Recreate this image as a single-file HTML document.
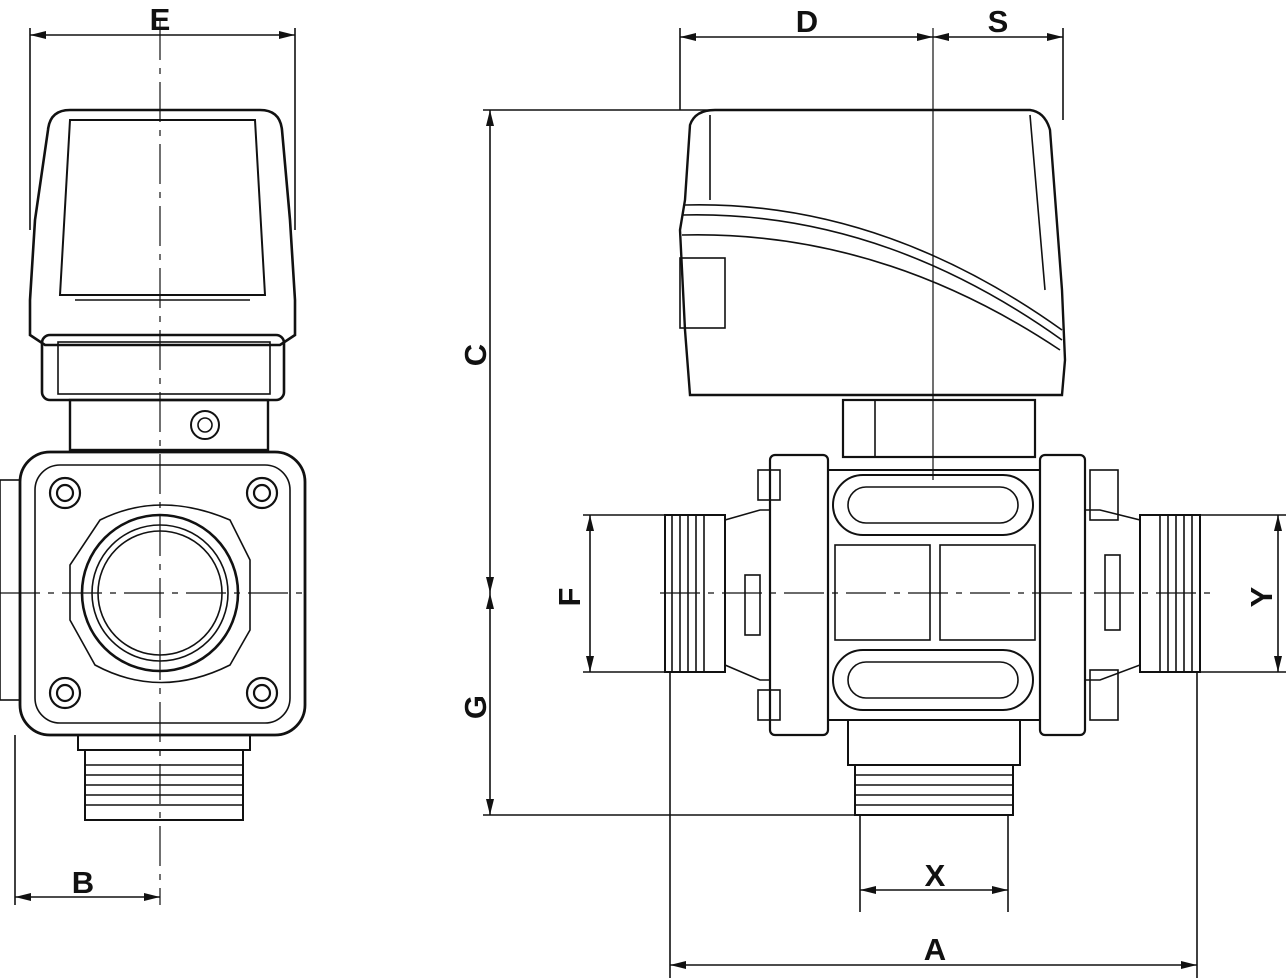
<!DOCTYPE html>
<html><head><meta charset="utf-8"><style>
html,body{margin:0;padding:0;background:#fff;}
svg{display:block}
text{font-family:"Liberation Sans",sans-serif;font-weight:bold;font-size:31px;fill:#111}
</style></head><body>
<svg width="1286" height="980" viewBox="0 0 1286 980" xmlns="http://www.w3.org/2000/svg">
<defs>
<marker id="a" markerWidth="16" markerHeight="8" refX="16" refY="4" orient="auto-start-reverse" markerUnits="userSpaceOnUse"><path d="M0,0 L16,4 L0,8 z" fill="#111"/></marker>
</defs>
<g stroke="#111" fill="none" stroke-width="1.6">
<!-- LEFT VIEW -->
<line x1="30" y1="28" x2="30" y2="230"/><line x1="295" y1="28" x2="295" y2="230"/>
<line x1="30" y1="35" x2="295" y2="35" marker-start="url(#a)" marker-end="url(#a)"/>
<path d="M48,130 Q50,110 70,110 L260,110 Q280,110 282,130 L290,220 L295,300 L295,335 L280,345 L45,345 L30,335 L30,300 L35,220 Z" stroke-width="2.6"/>
<path d="M70,120 L255,120 L265,295 L60,295 Z" stroke-width="2"/>
<path d="M75,300 L250,300"/>
<rect x="42" y="335" width="242" height="65" rx="8" stroke-width="2.6"/>
<rect x="58" y="342" width="212" height="52"/>
<rect x="70" y="400" width="198" height="50" stroke-width="2.4"/>
<circle cx="205" cy="425" r="14" stroke-width="2"/><circle cx="205" cy="425" r="7"/>
<rect x="20" y="452" width="285" height="283" rx="30" stroke-width="2.8"/>
<rect x="35" y="465" width="255" height="258" rx="25"/>
<rect x="0" y="480" width="20" height="220"/>
<circle cx="160" cy="593" r="78" stroke-width="2.6"/><circle cx="160" cy="593" r="68"/><circle cx="160" cy="593" r="62"/>
<path d="M100,520 Q160,490 230,520 L250,560 L250,630 L230,665 Q160,700 95,665 L70,620 L70,565 Z"/>
<g stroke-width="2.2"><circle cx="65" cy="493" r="15"/><circle cx="65" cy="493" r="8"/>
<circle cx="262" cy="493" r="15"/><circle cx="262" cy="493" r="8"/>
<circle cx="65" cy="693" r="15"/><circle cx="65" cy="693" r="8"/>
<circle cx="262" cy="693" r="15"/><circle cx="262" cy="693" r="8"/></g>
<rect x="78" y="735" width="172" height="15" stroke-width="2"/>
<rect x="85" y="750" width="158" height="70" stroke-width="2"/>
<path d="M85,765 H243 M85,775 H243 M85,785 H243 M85,795 H243 M85,805 H243"/>
<line x1="160" y1="20" x2="160" y2="905" stroke-dasharray="40,8,6,8" stroke-width="1.2"/>
<line x1="0" y1="593" x2="305" y2="593" stroke-dasharray="40,8,6,8" stroke-width="1.2"/>
<line x1="15" y1="735" x2="15" y2="905"/>
<line x1="15" y1="897" x2="160" y2="897" marker-start="url(#a)" marker-end="url(#a)"/>

<!-- RIGHT VIEW -->
<line x1="680" y1="28" x2="680" y2="110"/><line x1="1063" y1="28" x2="1063" y2="120"/>
<line x1="933" y1="28" x2="933" y2="480" stroke-width="1.2"/>
<line x1="680" y1="37" x2="933" y2="37" marker-start="url(#a)" marker-end="url(#a)"/>
<line x1="933" y1="37" x2="1063" y2="37" marker-start="url(#a)" marker-end="url(#a)"/>
<line x1="483" y1="110" x2="710" y2="110"/>
<line x1="483" y1="815" x2="860" y2="815"/>
<line x1="490" y1="110" x2="490" y2="593" marker-start="url(#a)" marker-end="url(#a)"/>
<line x1="490" y1="593" x2="490" y2="815" marker-start="url(#a)" marker-end="url(#a)"/>
<path d="M685,200 L690,125 Q695,110 715,110 L1030,110 Q1045,112 1050,130 L1062,290 L1065,360 L1062,395 L690,395 L685,330 L680,230 Z" stroke-width="2.4"/>
<path d="M710,115 L710,200 M1030,115 L1045,290"/>
<path d="M685,205 Q880,200 1062,330 M682,215 Q880,210 1062,340 M682,235 Q880,230 1060,350"/>
<rect x="680" y="258" width="45" height="70"/>
<rect x="843" y="400" width="192" height="57" stroke-width="2.2"/>
<path d="M875,400 V457"/>
<rect x="770" y="455" width="58" height="280" rx="5" stroke-width="2.2"/>
<rect x="1040" y="455" width="45" height="280" rx="5" stroke-width="2.2"/>
<rect x="828" y="470" width="212" height="250" stroke-width="2"/>
<rect x="835" y="545" width="95" height="95"/><rect x="940" y="545" width="95" height="95"/>
<rect x="833" y="475" width="200" height="60" rx="30" stroke-width="2"/>
<rect x="848" y="487" width="170" height="36" rx="18"/>
<rect x="833" y="650" width="200" height="60" rx="30" stroke-width="2"/>
<rect x="848" y="662" width="170" height="36" rx="18"/>
<rect x="758" y="470" width="22" height="30"/><rect x="758" y="690" width="22" height="30"/>
<rect x="1090" y="470" width="28" height="50"/><rect x="1090" y="670" width="28" height="50"/>
<rect x="665" y="515" width="60" height="157" stroke-width="2"/>
<path d="M672,515 V672 M680,515 V672 M688,515 V672 M696,515 V672 M704,515 V672"/>
<path d="M725,520 L760,510 L770,510 L770,680 L760,680 L725,665"/>
<rect x="745" y="575" width="15" height="60"/>
<rect x="1140" y="515" width="60" height="157" stroke-width="2"/>
<path d="M1160,515 V672 M1168,515 V672 M1176,515 V672 M1184,515 V672 M1192,515 V672"/>
<path d="M1085,510 L1100,510 L1140,520 L1140,665 L1100,680 L1085,680"/>
<rect x="1105" y="555" width="15" height="75"/>
<rect x="848" y="720" width="172" height="45" stroke-width="2"/>
<rect x="855" y="765" width="158" height="50" stroke-width="2"/>
<path d="M855,775 H1013 M855,785 H1013 M855,795 H1013 M855,805 H1013"/>
<line x1="660" y1="593" x2="1210" y2="593" stroke-dasharray="40,8,6,8" stroke-width="1.2"/>
<line x1="583" y1="515" x2="665" y2="515"/><line x1="583" y1="672" x2="665" y2="672"/>
<line x1="590" y1="515" x2="590" y2="672" marker-start="url(#a)" marker-end="url(#a)"/>
<line x1="1200" y1="515" x2="1286" y2="515"/><line x1="1200" y1="672" x2="1286" y2="672"/>
<line x1="1278" y1="515" x2="1278" y2="672" marker-start="url(#a)" marker-end="url(#a)"/>
<line x1="860" y1="815" x2="860" y2="912"/><line x1="1008" y1="815" x2="1008" y2="912"/>
<line x1="860" y1="890" x2="1008" y2="890" marker-start="url(#a)" marker-end="url(#a)"/>
<line x1="670" y1="672" x2="670" y2="978"/><line x1="1197" y1="672" x2="1197" y2="978"/>
<line x1="670" y1="965" x2="1197" y2="965" marker-start="url(#a)" marker-end="url(#a)"/>
</g>
<text x="160" y="30" text-anchor="middle">E</text>
<text x="83" y="893" text-anchor="middle">B</text>
<text x="807" y="32" text-anchor="middle">D</text>
<text x="998" y="32" text-anchor="middle">S</text>
<text x="935" y="886" text-anchor="middle">X</text>
<text x="935" y="960" text-anchor="middle">A</text>
<text transform="translate(486,355) rotate(-90)" text-anchor="middle">C</text>
<text transform="translate(486,707) rotate(-90)" text-anchor="middle">G</text>
<text transform="translate(580,597) rotate(-90)" text-anchor="middle">F</text>
<text transform="translate(1272,597) rotate(-90)" text-anchor="middle">Y</text>
</svg>
</body></html>
